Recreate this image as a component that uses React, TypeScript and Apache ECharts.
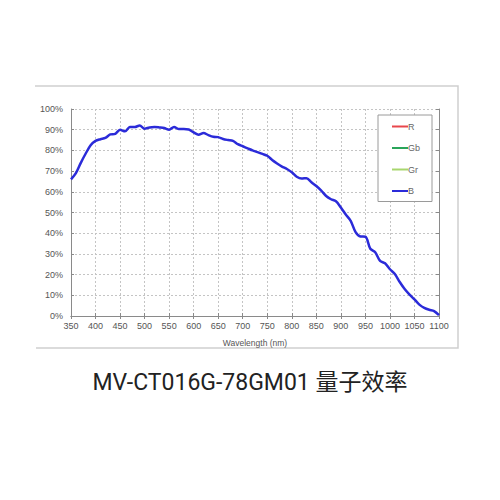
import React, { useEffect, useRef } from "react";
import * as echarts from "echarts";

const wavelengths = [
  350, 360, 370, 380, 390, 400, 410, 420, 430, 440, 450, 460, 470, 480, 490, 500,
  510, 520, 530, 540, 550, 560, 570, 580, 590, 600, 610, 620, 630, 640, 650, 660,
  670, 680, 690, 700, 710, 720, 730, 740, 750, 760, 770, 780, 790, 800, 810, 820,
  830, 840, 850, 860, 870, 880, 890, 900, 910, 920, 930, 940, 950, 960, 970, 980,
  990, 1000, 1010, 1020, 1030, 1040, 1050, 1060, 1070, 1080, 1090, 1100,
];

const blueQE = [
  66, 69, 74, 78.5, 82.5, 84.6, 85.4, 86, 87.7, 88, 90, 89.2, 91.3, 91.3, 92, 90.5,
  91.1, 91.3, 91.1, 90.8, 90, 91.3, 90.3, 90.3, 90.1, 88.7, 87.6, 88.4, 87.4, 86.6, 86.4, 85.5,
  85, 84.6, 83, 82, 81, 80, 79.2, 78.3, 77.4, 75.4, 73.7, 72.2, 71, 69.4, 67.3, 66.4,
  66.6, 64.6, 62.8, 60.6, 58, 56.4, 55.4, 52.4, 49, 46, 40.5, 38.4, 38.3, 32.5, 30.8, 26.6,
  25.5, 22.6, 20.3, 16.4, 13, 10.3, 8, 5.5, 3.9, 3, 2.4, 0.4,
];

const legendNames = ["R", "Gb", "Gr", "B"];
const legendColors = ["#e8474c", "#2aa55a", "#a8d66e", "#2b2bd9"];

const TITLE = "MV-CT016G-78GM01 量子效率";
const FONT = "'Liberation Sans', Arial, sans-serif";

const App: React.FC = () => {
  const chartRef = useRef<HTMLDivElement>(null);

  useEffect(() => {
    document.body.style.margin = "0";
    let myChart: echarts.ECharts | null = null;
    if (chartRef.current) {
      myChart = echarts.init(chartRef.current, undefined, { renderer: "svg" });
      const axisLine = { show: true, lineStyle: { color: "#8a8a8a", width: 1 } };
      const tick = { show: true, inside: true, length: 3, lineStyle: { color: "#8a8a8a" } };
      myChart.setOption({
        animation: false,
        backgroundColor: "#ffffff",
        title: {
          text: TITLE,
          left: "center",
          top: 366,
          textStyle: {
            fontFamily: "Roboto, 'Noto Sans CJK SC', sans-serif",
            fontSize: 23,
            fontWeight: "normal",
            color: "#222222",
          },
        },
        grid: { left: 71, right: 61, top: 109, bottom: 184 },
        legend: {
          data: legendNames,
          orient: "vertical",
          left: 378,
          top: 115,
          padding: [7, 12, 6, 14],
          itemWidth: 16,
          itemHeight: 2,
          itemGap: 12.5,
          icon: "rect",
          borderColor: "#9a9a9a",
          borderWidth: 1,
          backgroundColor: "#ffffff",
          textStyle: { fontFamily: FONT, fontSize: 9, color: "#666666", padding: [0, 0, 0, -5] },
        },
        xAxis: [
          {
            type: "value",
            min: 350,
            max: 1100,
            interval: 50,
            name: "Wavelength (nm)",
            nameLocation: "middle",
            nameGap: 22,
            nameTextStyle: { fontFamily: FONT, fontSize: 8.5, color: "#555555" },
            axisLine,
            axisTick: tick,
            axisLabel: {
              fontFamily: FONT,
              fontSize: 9,
              color: "#555555",
              margin: 5,
              formatter: (v: number) => String(v),
            },
            splitLine: { show: true, lineStyle: { color: "#c4c4c4", type: [2, 2] } },
          },
          {
            type: "value",
            position: "top",
            min: 350,
            max: 1100,
            interval: 50,
            axisLine,
            axisTick: tick,
            axisLabel: { show: false },
            splitLine: { show: false },
          },
        ],
        yAxis: [
          {
            type: "value",
            min: 0,
            max: 100,
            interval: 10,
            axisLine,
            axisTick: tick,
            axisLabel: {
              fontFamily: FONT,
              fontSize: 9,
              color: "#555555",
              margin: 8,
              formatter: "{value}%",
            },
            splitLine: { show: true, lineStyle: { color: "#c4c4c4", type: [2, 2] } },
          },
          {
            type: "value",
            position: "right",
            min: 0,
            max: 100,
            interval: 10,
            axisLine,
            axisTick: tick,
            axisLabel: { show: false },
            splitLine: { show: false },
          },
        ],
        series: [
          ...legendNames.slice(0, 3).map((name, i) => ({
            name,
            type: "line",
            data: [],
            itemStyle: { color: legendColors[i] },
            lineStyle: { color: legendColors[i] },
          })),
          {
            name: "B",
            type: "line",
            smooth: 0.3,
            showSymbol: false,
            data: wavelengths.map((w, i) => [w, blueQE[i]]),
            itemStyle: { color: legendColors[3] },
            lineStyle: { color: legendColors[3], width: 2.5 },
            z: 5,
          },
        ],
        graphic: [
          {
            type: "polyline",
            shape: { points: [[35, 86], [458, 86], [458, 348], [36, 348]] },
            style: { stroke: "#cfcfcf", lineWidth: 1.5, fill: "none" },
            silent: true,
          },
        ],
      });
    }
    return () => {
      if (myChart !== null) {
        myChart.dispose();
      }
    };
  }, []);

  return <div ref={chartRef} style={{ width: "500px", height: "500px" }} />;
};

export default App;
